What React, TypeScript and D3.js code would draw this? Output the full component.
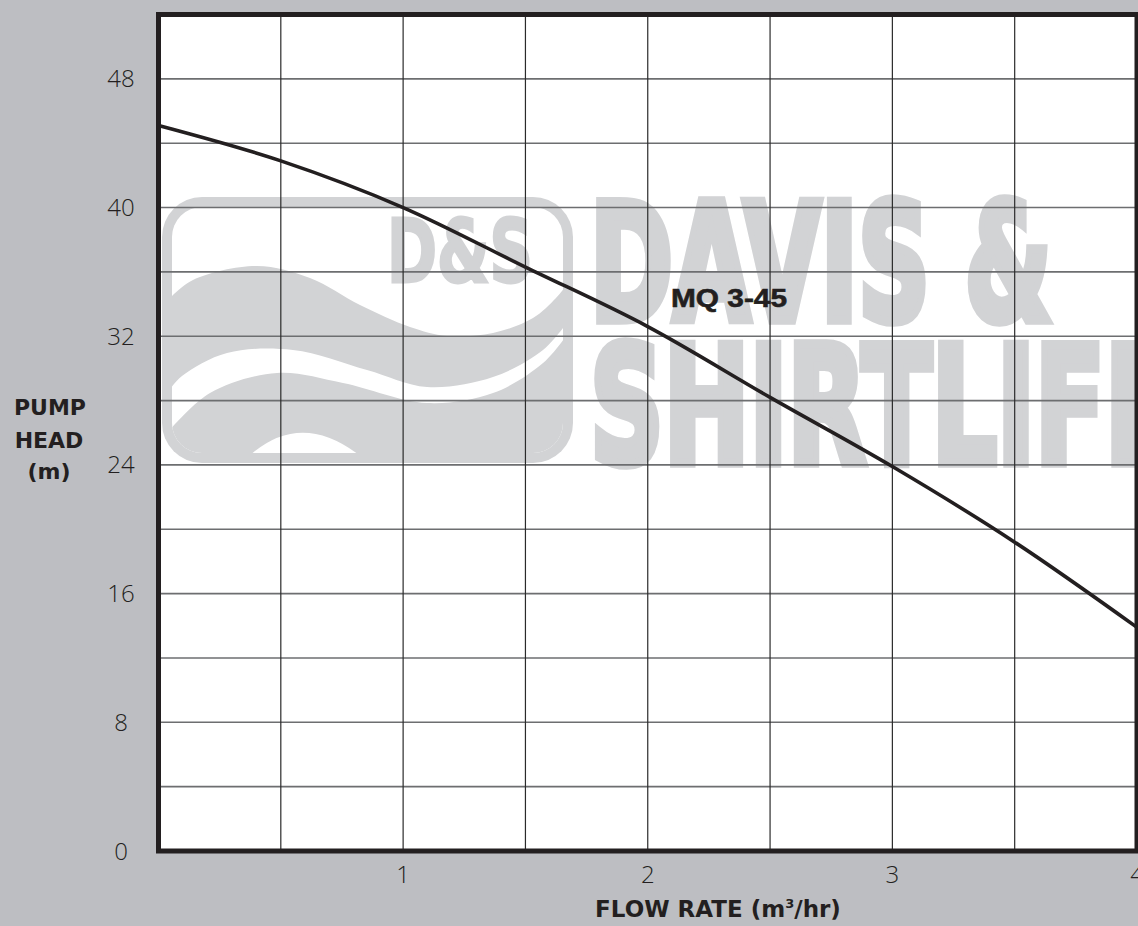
import React from 'react';
import * as d3 from 'd3';

const width = 1138;
const height = 926;
const margin = { top: 14.5, right: 1, bottom: 75, left: 158.5 };

// pump curve MQ 3-45
const flowRate = [0, 0.5, 1, 1.5, 2, 2.5, 3, 3.5, 4];
const pumpHead = [45.1, 42.9, 40.0, 36.3, 32.6, 28.2, 23.9, 19.2, 13.9];

const xTicks = [1, 2, 3, 4];
const yTicks = [0, 8, 16, 24, 32, 40, 48];
const xGrid = [0.5, 1, 1.5, 2, 2.5, 3, 3.5];
const yGrid = [4, 8, 12, 16, 20, 24, 28, 32, 36, 40, 44, 48];

const ink = '#231f20';
const bg = '#bdbec2';
const mark = '#d2d3d5';

// watermark outline points (page pixels), decoration only
const waveTop: [number, number][] = [
  [168, 300], [193, 280], [257, 266], [310, 278], [360, 305], [410, 327],
  [447, 336], [493, 333], [533, 318], [556, 298], [566, 286],
];
const stripeTop: [number, number][] = [
  [566, 324], [543, 350], [493, 377], [427, 387], [367, 370], [293, 350],
  [227, 353], [182, 376], [168, 392],
];
const stripeBottom: [number, number][] = [
  [168, 432], [210, 393], [277, 373], [343, 383], [427, 403], [493, 393],
  [543, 363], [566, 336],
];

const x = d3.scaleLinear().domain([0, 4]).range([margin.left, width - margin.right]);
const y = d3.scaleLinear().domain([0, 52]).range([height - margin.bottom, margin.top]);

function Watermark() {
  const smooth = d3.line().curve(d3.curveCatmullRom);
  const waveFill = smooth(waveTop) + 'L566,460L168,460Z';
  const stripe = smooth(stripeTop) + 'L' + smooth(stripeBottom)!.slice(1) + 'Z';
  const arc = 'M252,453.5 Q301,412 357,453.5 Z';

  return (
    <g clipPath="url(#plotClip)">
      <clipPath id="logoInner">
        <rect x={172} y={207} width={391} height={246} rx={30} />
      </clipPath>
      <rect x={162} y={197} width={411} height={266} rx={40} fill={mark} />
      <rect x={172} y={207} width={391} height={246} rx={30} fill="#fff" />
      <g clipPath="url(#logoInner)">
        <path d={waveFill} fill={mark} />
        <path d={stripe} fill="#fff" />
        <path d={arc} fill="#fff" />
      </g>
      <text x={387} y={282} fontSize={88} fontWeight={700} fill={mark} stroke={mark} strokeWidth={3}
        fontFamily="DejaVu Sans" textLength={146} lengthAdjust="spacingAndGlyphs">D&amp;S</text>
      <g fill={mark} stroke={mark} strokeWidth={6} fontWeight={700} fontFamily="DejaVu Sans">
        <text transform="translate(590,320) scale(1,1.62)" fontSize={100}
          textLength={462} lengthAdjust="spacingAndGlyphs">DAVIS &amp;</text>
        <text transform="translate(590,463) scale(1,1.62)" fontSize={100}
          textLength={585} lengthAdjust="spacingAndGlyphs">SHIRTLIFF</text>
      </g>
    </g>
  );
}

export default function App() {
  const line = d3.line<number>()
    .x((d, i) => x(flowRate[i]))
    .y(d => y(d))
    .curve(d3.curveMonotoneX);

  const x0 = x(0), x1 = x(4), y0 = y(0), y1 = y(52);

  return (
    <svg width={width} height={height} style={{ position: 'absolute', left: 0, top: 0, display: 'block' }}>
      <defs>
        <clipPath id="plotClip">
          <rect x={x0} y={y1} width={x1 - x0} height={y0 - y1} />
        </clipPath>
      </defs>
      <rect width={width} height={height} fill={bg} />
      <rect x={x0} y={y1} width={x1 - x0} height={y0 - y1} fill="#fff" />

      <Watermark />

      {yGrid.map(v => (
        <line key={'h' + v} x1={x0} x2={x1} y1={y(v)} y2={y(v)} stroke="#6d6e70" strokeWidth={1.6} />
      ))}
      {xGrid.map(v => (
        <line key={'v' + v} x1={x(v)} x2={x(v)} y1={y1} y2={y0} stroke="#2b2b2b" strokeWidth={1.2} />
      ))}

      <path d={line(pumpHead)!} fill="none" stroke={ink} strokeWidth={3.6} clipPath="url(#plotClip)" />

      <rect x={x0} y={y1} width={x1 - x0} height={y0 - y1} fill="none" stroke={ink} strokeWidth={5} />

      <text x={671} y={307} fontSize={26} fontWeight={700} fill={ink} stroke={ink} strokeWidth={0.6}
        fontFamily="Liberation Sans, Arial, sans-serif" textLength={116} lengthAdjust="spacingAndGlyphs">MQ 3-45</text>

      {yTicks.map(v => (
        <text key={'yt' + v} x={121} y={y(v) + 8.5} textAnchor="middle" fontSize={24}
          fontWeight={300} fontFamily="Open Sans, sans-serif" fill={ink}>{v}</text>
      ))}
      {xTicks.map(v => (
        <text key={'xt' + v} x={x(v)} y={y0 + 32} textAnchor="middle" fontSize={24}
          fontWeight={300} fontFamily="Open Sans, sans-serif" fill={ink}>{v}</text>
      ))}

      <g fontFamily="DejaVu Sans, sans-serif" fontWeight={700} fontSize={22} fill={ink} textAnchor="middle">
        <text x={50} y={415}>PUMP</text>
        <text x={49} y={448}>HEAD</text>
        <text x={49} y={479}>(m)</text>
        <text x={718} y={917} fontSize={23}>FLOW RATE (m<tspan fontSize={13} dy={-9}>3</tspan><tspan dy={9}>/hr)</tspan></text>
      </g>
    </svg>
  );
}
